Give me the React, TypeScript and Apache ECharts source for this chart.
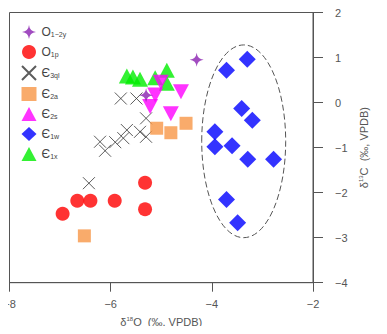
import React, { useEffect, useRef } from "react";
import * as echarts from "echarts";

const xTicks = [-8, -6, -4, -2];
const yTicks = [-4, -3, -2, -1, 0, 1, 2];

const seriesNames = ["O1-2y", "O1p", "E3ql", "E2a", "E2s", "E1w", "E1x"];
const legendLabels: Record<string, string> = {
  "O1-2y": "O{s|1−2y}",
  O1p: "O{s|1p}",
  E3ql: "Є{s|3ql}",
  E2a: "Є{s|2a}",
  E2s: "Є{s|2s}",
  E1w: "Є{s|1w}",
  E1x: "Є{s|1x}",
};

const o12y = [
  [-4.3, 0.95],
  [-5.3, 0.16],
];
const o1p = [
  [-6.95, -2.47],
  [-6.66, -2.18],
  [-6.4, -2.18],
  [-5.92, -2.18],
  [-5.32, -1.78],
  [-5.32, -2.37],
];
const e3ql = [
  [-5.8, 0.09],
  [-5.49, 0.09],
  [-5.3, -0.35],
  [-5.68, -0.61],
  [-5.42, -0.65],
  [-5.3, -0.76],
  [-5.75, -0.79],
  [-5.91, -0.88],
  [-6.21, -0.87],
  [-6.11, -1.07],
  [-6.43, -1.79],
];
const e2a = [
  [-6.52, -2.96],
  [-5.09, -0.57],
  [-4.81, -0.67],
  [-4.51, -0.46],
];
const e2s = [
  [-5.01, 0.45],
  [-5.12, 0.17],
  [-5.22, -0.09],
  [-4.61, 0.24],
  [-4.81, -0.25],
];
const e1w = [
  [-3.3, 0.96],
  [-3.71, 0.72],
  [-3.41, -0.13],
  [-3.2, -0.39],
  [-3.94, -0.65],
  [-3.94, -0.98],
  [-3.6, -0.96],
  [-3.29, -1.26],
  [-2.78, -1.26],
  [-3.71, -2.15],
  [-3.49, -2.67],
];
const e1x = [
  [-5.68, 0.59],
  [-5.56, 0.57],
  [-5.42, 0.52],
  [-5.12, 0.55],
  [-4.89, 0.72],
  [-4.89, 0.43],
];
// ellipse: center x, center y, radius x, radius y (data units)
const ellipseData = [[-3.37, -0.86, 0.83, 2.14]];

const starPath =
  "path://M0,-10 Q1,-1 10,0 Q1,1 0,10 Q-1,1 -10,0 Q-1,-1 0,-10 Z";
const crossPath = "path://M-5,-5 L5,5 M5,-5 L-5,5";

const fmtNum = (v: number) => (v < 0 ? "−" + Math.abs(v) : String(v));

export default function App() {
  const ref = useRef<HTMLDivElement>(null);
  useEffect(() => {
    if (!ref.current) return;
    const chart = echarts.init(ref.current, undefined, { renderer: "svg" });
    const font = "Liberation Sans, Arial, sans-serif";
    chart.setOption({
      animation: false,
      textStyle: { fontFamily: font },
      grid: {
        left: 9.5,
        right: 74,
        top: 12.5,
        bottom: 51.3,
        show: true,
        borderColor: "#555",
        borderWidth: 1,
        backgroundColor: "transparent",
      },
      legend: {
        orient: "vertical",
        left: 16,
        top: 20,
        itemWidth: 15,
        itemHeight: 14,
        itemGap: 6,
        data: seriesNames,
        formatter: (n: string) => legendLabels[n] || n,
        textStyle: {
          fontFamily: font,
          fontSize: 12,
          color: "#444",
          rich: {
            s: { fontSize: 7, color: "#444", verticalAlign: "bottom", padding: [5, 0, 0, 0] },
          },
        },
      },
      xAxis: {
        type: "value",
        min: -8,
        max: -2,
        interval: 2,
        name: "δ{sup|18}O  (‰, VPDB)",
        nameLocation: "middle",
        nameGap: 33,
        nameTextStyle: {
          fontSize: 11,
          color: "#555",
          rich: { sup: { fontSize: 6, color: "#555", verticalAlign: "top", padding: [0, 0, 6, 0] } },
        },
        axisLine: { onZero: false, lineStyle: { color: "#555" } },
        axisTick: { length: 9, lineStyle: { color: "#555" } },
        axisLabel: { formatter: fmtNum, color: "#555", fontSize: 11, margin: 16 },
        splitLine: { show: false },
      },
      yAxis: {
        type: "value",
        position: "right",
        min: -4,
        max: 2,
        interval: 1,
        name: "δ{sup|13}C  (‰, VPDB)",
        nameLocation: "middle",
        nameRotate: 90,
        nameGap: 44,
        nameTextStyle: {
          fontSize: 11,
          color: "#555",
          rich: { sup: { fontSize: 6, color: "#555", verticalAlign: "top", padding: [0, 0, 6, 0] } },
        },
        axisLine: { onZero: false, lineStyle: { color: "#555" } },
        axisTick: { length: 10, lineStyle: { color: "#555" } },
        axisLabel: { formatter: fmtNum, color: "#555", fontSize: 11, margin: 22, align: "left" },
        splitLine: { show: false },
      },
      series: [
        {
          type: "custom",
          name: "ellipse",
          silent: true,
          data: ellipseData,
          z: 1,
          renderItem: (_p: any, api: any) => {
            const c = api.coord([api.value(0), api.value(1)]);
            const s = api.size([api.value(2), api.value(3)], [api.value(0), api.value(1)]);
            return {
              type: "ellipse",
              shape: { cx: c[0], cy: c[1], rx: s[0], ry: s[1] },
              style: { fill: "none", stroke: "#555", lineWidth: 1, lineDash: [6, 3] },
            };
          },
        },
        {
          name: "E3ql",
          type: "scatter",
          data: e3ql,
          symbol: crossPath,
          symbolSize: 12,
          itemStyle: { color: "rgba(0,0,0,0)", borderColor: "#333", borderWidth: 1 },
          z: 2,
        },
        {
          name: "E1x",
          type: "scatter",
          data: e1x,
          symbol: "triangle",
          symbolSize: [16, 15],
          itemStyle: { color: "#00ee00" },
          z: 3,
        },
        {
          name: "E2s",
          type: "scatter",
          data: e2s,
          symbol: "triangle",
          symbolRotate: 180,
          symbolSize: [16, 15],
          itemStyle: { color: "#ff00ff" },
          z: 4,
        },
        {
          name: "E2a",
          type: "scatter",
          data: e2a,
          symbol: "rect",
          symbolSize: 13,
          itemStyle: { color: "#f79646" },
          z: 4,
        },
        {
          name: "O1-2y",
          type: "scatter",
          data: o12y,
          symbol: starPath,
          symbolSize: 14,
          itemStyle: { color: "#8a1fb0" },
          z: 5,
        },
        {
          name: "O1p",
          type: "scatter",
          data: o1p,
          symbol: "circle",
          symbolSize: 14,
          itemStyle: { color: "#ff0000" },
          z: 4,
        },
        {
          name: "E1w",
          type: "scatter",
          data: e1w,
          symbol: "diamond",
          symbolSize: 17,
          itemStyle: { color: "#0000ff" },
          z: 4,
        },
      ],
    });
    return () => chart.dispose();
  }, []);
  return <div ref={ref} style={{ width: 387, height: 334, margin: -8 }} />;
}
